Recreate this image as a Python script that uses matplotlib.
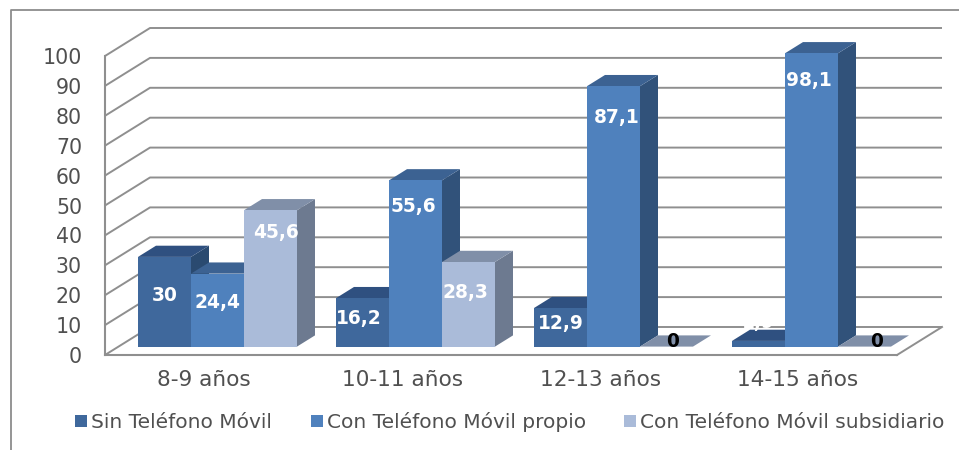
import matplotlib
matplotlib.use("Agg")
import matplotlib.pyplot as plt
from matplotlib.lines import Line2D
from matplotlib.patches import Patch

categories = ["8-9 años", "10-11 años", "12-13 años", "14-15 años"]
series_names = ["Sin Teléfono Móvil", "Con Teléfono Móvil propio", "Con Teléfono Móvil subsidiario"]
sin_movil = [30, 16.2, 12.9, 1.9]
movil_propio = [24.4, 55.6, 87.1, 98.1]
movil_subsidiario = [45.6, 28.3, 0, 0]
y_ticks = list(range(0, 101, 10))

# styling
series = [sin_movil, movil_propio, movil_subsidiario]
front = ["#3f689c", "#4f81bd", "#aabbd9"]
top = ["#2f5080", "#3c6292", "#808fa8"]
side = ["#2a4a70", "#31527a", "#6d7a90"]
# per-label pixel offset from the centre of each bar's top edge
label_off = [
    [(0, -39), (-3.5, -20), (0, -15), (0, 18)],
    [(0, -29), (-2, -26.5), (3.5, -31), (-3, -27)],
    [(6, -22), (-3, -31), (6.5, 5), (12, 5)],
]
GRID = "#8f8f8f"
TEXT = "#505050"
W, H = 959, 450
DX = 45 / 198      # depth shift in category units
DV = 28 / 2.99     # depth shift in value units
FRONT_D, BACK_D = 0.3, 0.7
GAP = 0.0985
BAR_W = (1 - 2 * GAP) / 3

fig = plt.figure(figsize=(W / 100, H / 100), dpi=100, facecolor="white")
ax = fig.add_axes([105 / W, (H - 355) / H, 792 / W, 299 / H])
ax.set_xlim(0, 4)
ax.set_ylim(0, 100)
ax.patch.set_visible(False)


def proj(x, v, d):
    return x + d * DX, v + d * DV


# walls / gridlines
for v in y_ticks:
    ax.plot([0, DX, 4 + DX], [v, v + DV, v + DV], color=GRID, lw=1.4,
            clip_on=False, zorder=1, solid_capstyle="butt")
ax.plot([4, 4 + DX], [0, DV], color=GRID, lw=1.4, clip_on=False, zorder=1)

for s in ["top", "right"]:
    ax.spines[s].set_visible(False)
for s in ["left", "bottom"]:
    ax.spines[s].set_color(GRID)
    ax.spines[s].set_linewidth(1.5)
    ax.spines[s].set_zorder(1.5)

ax.set_yticks(y_ticks)
ax.set_xticks([i + 0.5 for i in range(4)])
ax.set_xticklabels(categories)
ax.tick_params(axis="y", length=0, pad=16.5, labelsize=14.8, labelcolor=TEXT)
ax.tick_params(axis="x", length=0, pad=11, labelsize=15.6, labelcolor=TEXT)

# bars
z = 2
for i in range(len(categories)):
    for j, vals in enumerate(series):
        v = vals[i]
        x0 = i + GAP + j * BAR_W
        x1 = x0 + BAR_W
        pts = lambda *p: list(zip(*[proj(*q) for q in p]))
        fx, fy = pts((x0, 0, FRONT_D), (x1, 0, FRONT_D), (x1, v, FRONT_D), (x0, v, FRONT_D))
        tx, ty = pts((x0, v, FRONT_D), (x1, v, FRONT_D), (x1, v, BACK_D), (x0, v, BACK_D))
        sx, sy = pts((x1, 0, FRONT_D), (x1, 0, BACK_D), (x1, v, BACK_D), (x1, v, FRONT_D))
        ax.fill(sx, sy, color=side[j], lw=0, clip_on=False, zorder=z)
        ax.fill(tx, ty, color=top[j], lw=0, clip_on=False, zorder=z + 0.1)
        ax.fill(fx, fy, color=front[j], lw=0, clip_on=False, zorder=z + 0.2)
        z += 1

# data labels
for i in range(len(categories)):
    for j, vals in enumerate(series):
        v = vals[i]
        x, y = proj(i + GAP + (j + 0.5) * BAR_W, v, FRONT_D)
        c = "black" if v == 0 else "white"
        ax.annotate(f"{v:g}".replace(".", ","), xy=(x, y), xytext=label_off[j][i],
                    textcoords="offset pixels", ha="center", va="center",
                    fontsize=13.4, fontweight="bold", color=c, zorder=50, annotation_clip=False)

# legend
handles = [Patch(facecolor=front[k], edgecolor="none", label=series_names[k]) for k in range(3)]
fig.legend(handles=handles, loc="center", bbox_to_anchor=(510 / W, (H - 422) / H), ncol=3,
           frameon=False, fontsize=14.5, labelcolor=TEXT, handlelength=0.6, handleheight=0.6,
           handletextpad=0.2, columnspacing=1.9, borderpad=0, borderaxespad=0)

# outer frame (cropped on the right and at the bottom)
fig.add_artist(Line2D([11 / W, 11 / W, 1], [0, (H - 10) / H, (H - 10) / H], color="#8c8c8c", lw=1.3))

fig.savefig("out.png", dpi=100)
